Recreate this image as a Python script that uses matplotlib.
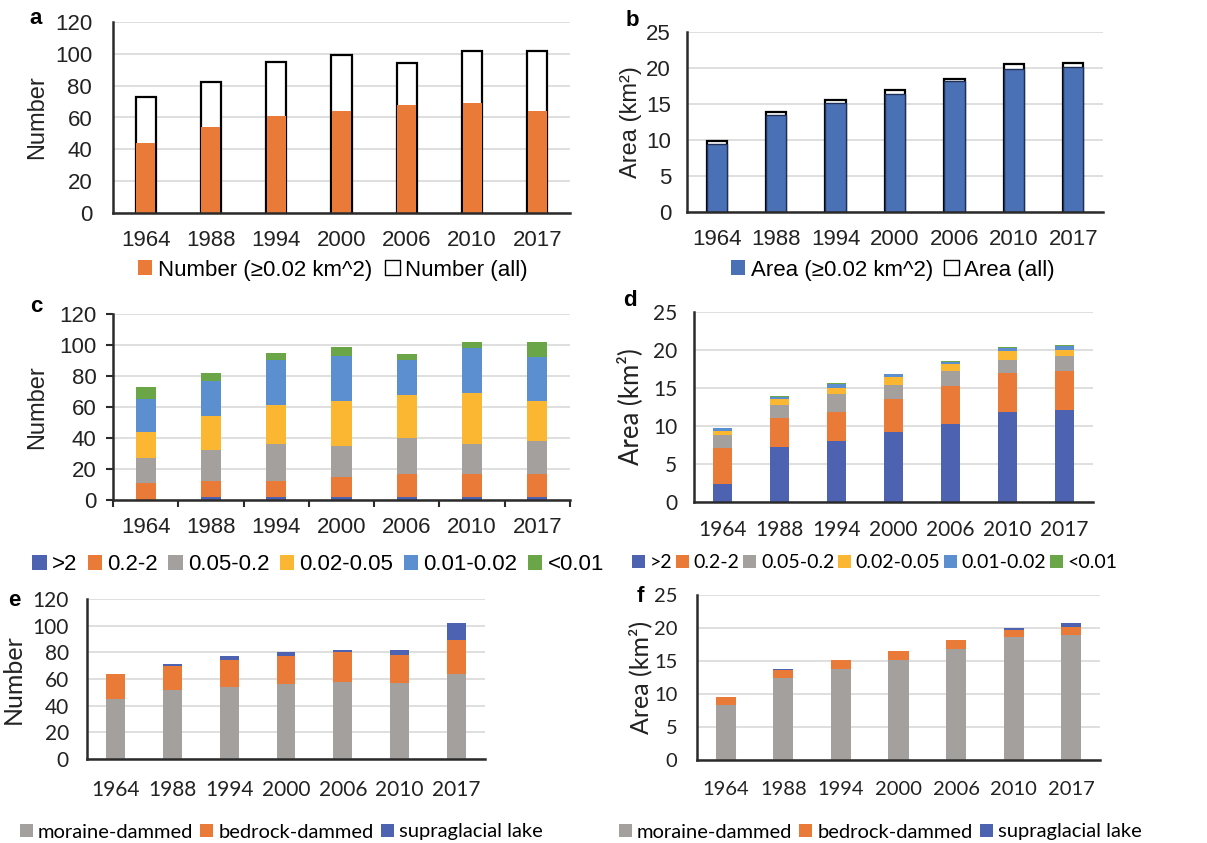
"""
Glacial lake number and area by year: six panels (a-f).
"""
import numpy as np
import matplotlib
matplotlib.use("Agg")
import matplotlib.pyplot as plt
from matplotlib.patches import Patch

# ── Data ───────────────────────────────────────────────────
years = ["1964", "1988", "1994", "2000", "2006", "2010", "2017"]

# panel a: number of lakes
num_all = [73, 82, 95, 99, 94, 102, 102]
num_ge002 = [44, 54, 61, 64, 68, 69, 64]

# panel b: area (km2)
area_all = [9.8, 13.9, 15.6, 17.0, 18.5, 20.5, 20.7]
area_ge002 = [9.5, 13.5, 15.2, 16.4, 18.2, 19.9, 20.1]

# panels c/d: size classes
size_classes = [">2", "0.2-2", "0.05-0.2", "0.02-0.05", "0.01-0.02", "<0.01"]
num_gt2 = [0, 2, 2, 2, 2, 2, 2]
num_02_2 = [11, 10, 10, 13, 15, 15, 15]
num_005_02 = [16, 20, 24, 20, 23, 19, 21]
num_002_005 = [17, 22, 25, 29, 28, 33, 26]
num_001_002 = [21, 23, 29, 29, 22, 29, 28]
num_lt001 = [8, 5, 5, 6, 4, 4, 10]

area_gt2 = [2.4, 7.3, 8.0, 9.2, 10.3, 11.8, 12.1]
area_02_2 = [4.7, 3.8, 3.8, 4.3, 5.0, 5.2, 5.1]
area_005_02 = [1.7, 1.7, 2.4, 1.9, 1.9, 1.7, 2.0]
area_002_005 = [0.5, 0.7, 0.8, 1.0, 0.9, 1.2, 0.8]
area_001_002 = [0.4, 0.3, 0.5, 0.4, 0.3, 0.4, 0.5]
area_lt001 = [0.1, 0.1, 0.1, 0.1, 0.1, 0.1, 0.1]

# panels e/f: lake types
lake_types = ["moraine-dammed", "bedrock-dammed", "supraglacial lake"]
num_moraine = [45, 52, 54, 56, 58, 57, 64]
num_bedrock = [19, 18, 20, 21, 22, 21, 25]
num_supra = [0, 1, 3, 3, 2, 4, 13]

area_moraine = [8.3, 12.5, 13.8, 15.2, 16.8, 18.6, 18.9]
area_bedrock = [1.2, 1.2, 1.3, 1.3, 1.4, 1.1, 1.2]
area_supra = [0.0, 0.1, 0.05, 0.05, 0.05, 0.35, 0.6]

# ── Styling ────────────────────────────────────────────────
BLUE = "#4e62b2"
ORANGE = "#ea7a38"
GRAY = "#a3a09e"
YELLOW = "#fbb731"
LBLUE = "#5b8fd0"
GREEN = "#6aa548"
BBLUE = "#4a70b5"
GRID = "#d9d9d9"
SPINE = "#2b2b2b"
TXT = "#222222"
ARIAL = "Liberation Sans"
CALIBRI = "Lato"

fig = plt.figure(figsize=(12.07, 8.43), dpi=100)
W, H = 1207, 843


def make_axes(left, right, top, bottom):
    return fig.add_axes([left / W, 1 - bottom / H, (right - left) / W, (bottom - top) / H])


def style(ax, ymax, ystep, ylabel, font, fs, lfs, xpad, ypad, labx, ticks=False):
    ax.set_xlim(-0.5, len(years) - 0.5)
    ax.set_ylim(0, ymax)
    ax.set_yticks(np.arange(0, ymax + 0.1, ystep))
    ax.set_xticks(np.arange(len(years)))
    ax.set_xticklabels(years)
    ax.yaxis.grid(True, color=GRID, lw=1.2)
    ax.set_axisbelow(True)
    for s in ["top", "right"]:
        ax.spines[s].set_visible(False)
    for s in ["left", "bottom"]:
        ax.spines[s].set_color(SPINE)
        ax.spines[s].set_linewidth(1.8)
    for lab in ax.get_xticklabels() + ax.get_yticklabels():
        lab.set_fontfamily(font)
        lab.set_fontsize(fs)
        lab.set_color(TXT)
    ax.tick_params(axis="x", length=0, pad=xpad)
    ax.tick_params(axis="y", length=0, pad=ypad)
    if ticks:
        ax.set_xticks(np.arange(-0.5, len(years), 1.0), minor=True)
        ax.tick_params(axis="x", which="minor", length=5, width=1.5, color=SPINE)
        ax.tick_params(axis="y", length=5, width=1.5, color=SPINE, pad=ypad - 4)
    ax.set_ylabel(ylabel, fontfamily=font, fontsize=lfs, color=TXT)
    ax.yaxis.set_label_coords(labx, 0.5)


def stacked(ax, series, colors, width):
    x = np.arange(len(years))
    bottom = np.zeros(len(years))
    for vals, c in zip(series, colors):
        ax.bar(x, vals, width, bottom=bottom, color=c, lw=0)
        bottom += np.array(vals)


def legend(handles, labels, cx, cy, font, fs, spacing=0.8):
    fig.legend(handles, labels, loc="center", bbox_to_anchor=(cx / W, 1 - cy / H),
               ncol=len(labels), frameon=False, prop={"family": font, "size": fs},
               handlelength=0.65, handleheight=0.65, handletextpad=0.25,
               columnspacing=spacing, borderpad=0)


def letter(px, py, s):
    fig.text(px / W, 1 - py / H, s, fontfamily=ARIAL, fontsize=16,
             fontweight="bold", va="center", ha="center")


x = np.arange(len(years))

# ── Panel a ────────────────────────────────────────────────
ax = make_axes(113, 570, 22, 213)
ax.bar(x, num_all, 0.31, color="white", edgecolor="black", lw=1.6)
ax.bar(x, num_ge002, 0.29, color=ORANGE, lw=0)
style(ax, 120, 20, "Number", ARIAL, 16, 17, 12, 15, -0.142)
legend([Patch(fc=ORANGE), Patch(fc="white", ec="black")],
       ["Number (≥0.02 km^2)", "Number (all)"], 333, 270, ARIAL, 16, 0.6)
letter(36, 18, "a")

# ── Panel b ────────────────────────────────────────────────
ax = make_axes(687, 1103, 32, 212)
ax.bar(x, area_all, 0.34, color="white", edgecolor="black", lw=1.6)
ax.bar(x, area_ge002, 0.34, color=BBLUE, edgecolor="#1f2f55", lw=1.0)
style(ax, 25, 5, "Area (km²)", ARIAL, 16, 17, 12, 11.5, -0.108)
legend([Patch(fc=BBLUE), Patch(fc="white", ec="black")],
       ["Area (≥0.02 km^2)", "Area (all)"], 893, 270, ARIAL, 16, 0.5)
letter(632, 20, "b")

size_colors = [BLUE, ORANGE, GRAY, YELLOW, LBLUE, GREEN]

# ── Panel c ────────────────────────────────────────────────
ax = make_axes(113, 570, 314, 500)
stacked(ax, [num_gt2, num_02_2, num_005_02, num_002_005, num_001_002, num_lt001],
        size_colors, 0.31)
style(ax, 120, 20, "Number", ARIAL, 16, 17, 12, 11, -0.142, ticks=True)
legend([Patch(fc=c) for c in size_colors], size_classes, 318, 565, ARIAL, 16, 0.45)
letter(36, 306, "c")

# ── Panel d ────────────────────────────────────────────────
ax = make_axes(694, 1093, 312, 502)
stacked(ax, [area_gt2, area_02_2, area_005_02, area_002_005, area_001_002, area_lt001],
        size_colors, 0.32)
style(ax, 25, 5, "Area (km²)", CALIBRI, 15, 18.5, 13, 12, -0.128)
legend([Patch(fc=c) for c in size_colors], size_classes, 875, 563, CALIBRI, 14, 0.2)
letter(630, 300, "d")

type_colors = [GRAY, ORANGE, BLUE]

# ── Panel e ────────────────────────────────────────────────
ax = make_axes(87, 485, 599, 759)
stacked(ax, [num_moraine, num_bedrock, num_supra], type_colors, 0.33)
style(ax, 120, 20, "Number", CALIBRI, 15, 18, 15, 13, -0.156)
legend([Patch(fc=c) for c in type_colors], lake_types, 281, 832, CALIBRI, 14.5, 0.35)
letter(14, 600, "e")

# ── Panel f ────────────────────────────────────────────────
ax = make_axes(697, 1100, 595, 760)
stacked(ax, [area_moraine, area_bedrock, area_supra], type_colors, 0.35)
style(ax, 25, 5, "Area (km²)", CALIBRI, 14.5, 18, 15, 14, -0.112)
legend([Patch(fc=c) for c in type_colors], lake_types, 880, 832, CALIBRI, 14.5, 0.35)
letter(640, 597, "f")

fig.savefig("out.png", dpi=100)
